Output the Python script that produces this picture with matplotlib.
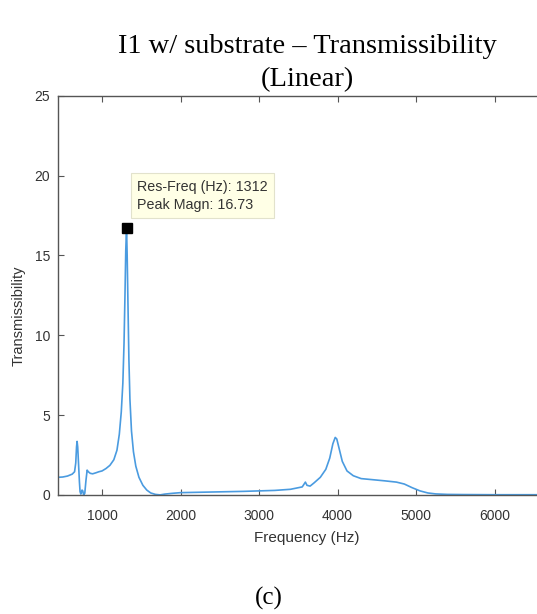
import numpy as np
import matplotlib.pyplot as plt

# measured transmissibility curve (frequency in Hz, linear magnitude)
freq = [440, 500, 560, 620, 650, 665, 675, 682, 690, 700, 712, 720, 730, 745, 755,
        765, 780, 795, 810, 825, 850, 880, 920, 960, 1000, 1050, 1100, 1150, 1190,
        1220, 1245, 1265, 1280, 1292, 1302, 1312, 1320, 1330, 1342, 1355, 1375, 1400,
        1430, 1470, 1520, 1570, 1620, 1680, 1740, 1800, 1900, 2000, 2200, 2400, 2600,
        2800, 3000, 3200, 3400, 3550, 3590, 3610, 3650, 3700, 3780, 3850, 3900, 3940,
        3970, 3990, 4020, 4060, 4120, 4200, 4300, 4450, 4600, 4750, 4850, 4950, 5050,
        5150, 5250, 5400, 5600, 6000, 6800]
mag = [1.10, 1.12, 1.18, 1.30, 1.45, 2.0, 3.0, 3.35, 3.0, 2.0, 0.8, 0.2, 0.05, 0.3, 0.25,
       0.0, 0.1, 0.9, 1.55, 1.45, 1.35, 1.32, 1.38, 1.45, 1.50, 1.65, 1.85, 2.2, 2.8,
       3.8, 5.2, 7.0, 9.5, 12.5, 15.3, 16.73, 15.0, 12.0, 8.5, 6.0, 4.0, 2.7,
       1.8, 1.1, 0.6, 0.3, 0.12, 0.03, 0.0, 0.05, 0.1, 0.14, 0.16, 0.18, 0.2,
       0.22, 0.25, 0.28, 0.35, 0.5, 0.8, 0.6, 0.55, 0.75, 1.1, 1.6, 2.3, 3.2,
       3.6, 3.5, 2.9, 2.1, 1.5, 1.2, 1.02, 0.95, 0.88, 0.8, 0.68, 0.45, 0.25,
       0.12, 0.06, 0.03, 0.02, 0.01, 0.01]

res_freq = 1312
peak_mag = 16.73

fig = plt.figure(figsize=(5.37, 6.14), dpi=100)
# axes run past the right edge of the figure
ax = fig.add_axes([0.1086, 0.194, 0.925, 0.650])

ax.plot(freq, mag, color='#4a9be0', lw=1.2)
ax.plot(res_freq, peak_mag, 's', color='black', ms=6.5)

ax.text(1450, 17.75, f"Res-Freq (Hz): {res_freq}\nPeak Magn: {peak_mag}",
        fontsize=10.3, family='Liberation Sans', color='#333333', linespacing=1.35,
        va='bottom', ha='left',
        bbox=dict(boxstyle='square,pad=0.45', fc='#ffffe6', ec='#e2e2cc', lw=0.8))

ax.set_xlim(443, 6770)
ax.set_ylim(0, 25)
ax.set_xticks([1000, 2000, 3000, 4000, 5000, 6000])
ax.set_yticks([0, 5, 10, 15, 20, 25])

for s in ax.spines.values():
    s.set_color('#555555')
    s.set_linewidth(1.0)
ax.tick_params(direction='in', top=True, right=True, length=4, width=0.8,
               color='#555555', labelsize=10, labelcolor='#333333')
ax.tick_params(axis='x', pad=10)
ax.tick_params(axis='y', pad=6)
for lab in ax.get_xticklabels() + ax.get_yticklabels():
    lab.set_family('Liberation Sans')

ax.set_xlabel('Frequency (Hz)', fontsize=11, family='Liberation Sans', color='#333333', labelpad=6)
ax.set_ylabel('Transmissibility', fontsize=10.5, family='Liberation Sans', color='#333333')
ax.yaxis.set_label_coords(-0.066, 0.45)

fig.text(0.572, 0.897, 'I1 w/ substrate \u2013 Transmissibility\n(Linear)', ha='center', va='center',
         fontsize=20.5, family='Liberation Serif', linespacing=1.45)
fig.text(0.5, 0.026, '(c)', ha='center', va='center', fontsize=18, family='Liberation Serif')

fig.savefig('out.png', dpi=100)
